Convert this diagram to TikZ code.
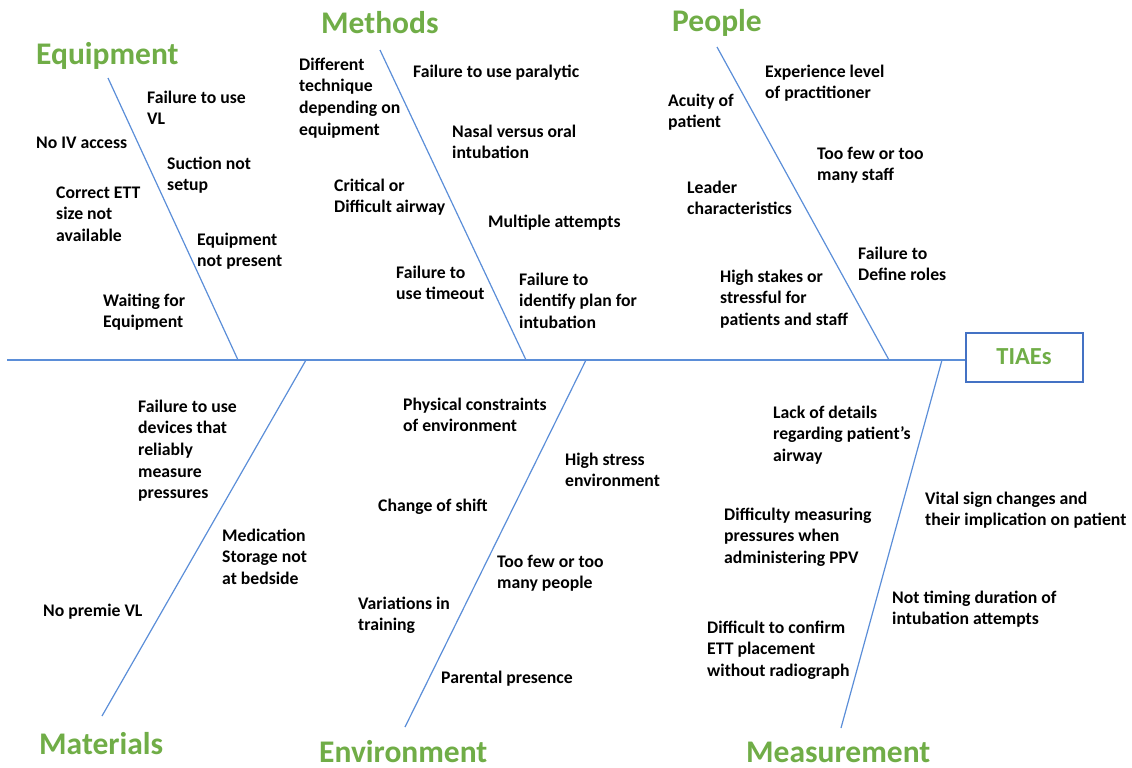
\documentclass[tikz,border=0pt]{standalone}
\usepackage{fontspec}
\setmainfont{Carlito}
\definecolor{hgreen}{HTML}{70AD47}
\definecolor{bone}{HTML}{5B8ED8}
\definecolor{boxblue}{HTML}{4472C4}
\newcommand\myst{\rule{0pt}{13pt}}
\tikzset{
  lab/.style={anchor=north west, inner sep=0pt, align=left,
    font=\fontsize{17.7pt}{21.6pt}\selectfont\bfseries},
  head/.style={anchor=base west, inner sep=0pt, text=hgreen, text depth=0pt,
    font=\fontsize{31.5pt}{36pt}\selectfont\bfseries},
  boneline/.style={draw=bone, line width=1.2pt},
}
\begin{document}
\begin{tikzpicture}[x=1pt,y=-1pt]
\useasboundingbox (0,0) rectangle (1132,768);
% spine and effect box
\node[draw=boxblue, line width=2pt, minimum width=117pt, minimum height=49pt, inner sep=0pt,
  text=hgreen, font=\fontsize{24.5pt}{28pt}\selectfont\bfseries] (tiaes) at (1024,357) {TIAEs};
\coordinate (tail) at (7,360);
\draw[boneline] (tail) -- (tail -| tiaes.west);
% bone endpoints
\coordinate (eqT) at (108,78);  \coordinate (eqB) at (238,360);
\coordinate (meT) at (380,50);  \coordinate (meB) at (526,360);
\coordinate (peT) at (717,47);  \coordinate (peB) at (889,360);
\coordinate (maT) at (306,360); \coordinate (maB) at (102,716);
\coordinate (enT) at (586,360); \coordinate (enB) at (405,727);
\coordinate (msT) at (942,360); \coordinate (msB) at (841,728);
\draw[boneline] (eqT) -- (eqB);
\draw[boneline] (meT) -- (meB);
\draw[boneline] (peT) -- (peB);
\draw[boneline] (maT) -- (maB);
\draw[boneline] (enT) -- (enB);
\draw[boneline] (msT) -- (msB);
% headings
\node[head] (hEq) at (36,64) {Equipment};
\node[head] (hMe) at (321,34) {Methods};
\node[head] (hPe) at (672,32) {People};
\node[head] (hMa) at (39,754) {Materials};
\node[head] (hEn) at (319,762) {Environment};
\node[head] (hMs) at (746,762) {Measurement};
% Equipment causes
\node[lab] (e1) at (147,90) {\myst Failure to use\\VL};
\node[lab] (e2) at (36,135) {\myst No IV access};
\node[lab] (e3) at (167,156) {\myst Suction not\\setup};
\node[lab] (e4) at (56,185) {\myst Correct ETT\\size not\\available};
\node[lab] (e5) at (197,232) {\myst Equipment\\not present};
\node[lab] (e6) at (103,293) {\myst Waiting for\\Equipment};
% Methods causes
\node[lab] (m1) at (299,57) {\myst Different\\technique\\depending on\\equipment};
\node[lab] (m2) at (413,64) {\myst Failure to use paralytic};
\node[lab] (m3) at (452,124) {\myst Nasal versus oral\\intubation};
\node[lab] (m4) at (334,178) {\myst Critical or\\Difficult airway};
\node[lab] (m5) at (488,214) {\myst Multiple attempts};
\node[lab] (m6) at (396,265) {\myst Failure to\\use timeout};
\node[lab] (m7) at (519,272) {\myst Failure to\\identify plan for\\intubation};
% People causes
\node[lab] (p1) at (765,64) {\myst Experience level\\of practitioner};
\node[lab] (p2) at (668,93) {\myst Acuity of\\patient};
\node[lab] (p3) at (817,146) {\myst Too few or too\\many staff};
\node[lab] (p4) at (687,180) {\myst Leader\\characteristics};
\node[lab] (p5) at (858,246) {\myst Failure to\\Define roles};
\node[lab] (p6) at (720,269) {\myst High stakes or\\stressful for\\patients and staff};
% Materials causes
\node[lab] (a1) at (138,399) {\myst Failure to use\\devices that\\reliably\\measure\\pressures};
\node[lab] (a2) at (222,528) {\myst Medication\\Storage not\\at bedside};
\node[lab] (a3) at (43,603) {\myst No premie VL};
% Environment causes
\node[lab] (v1) at (403,397) {\myst Physical constraints\\of environment};
\node[lab] (v2) at (565,452) {\myst High stress\\environment};
\node[lab] (v3) at (378,498) {\myst Change of shift};
\node[lab] (v4) at (497,554) {\myst Too few or too\\many people};
\node[lab] (v5) at (358,596) {\myst Variations in\\training};
\node[lab] (v6) at (441,670) {\myst Parental presence};
% Measurement causes
\node[lab] (s1) at (773,405) {\myst Lack of details\\regarding patient’s\\airway};
\node[lab] (s2) at (925,491) {\myst Vital sign changes and\\their implication on patient};
\node[lab] (s3) at (724,507) {\myst Difficulty measuring\\pressures when\\administering PPV};
\node[lab] (s4) at (892,590) {\myst Not timing duration of\\intubation attempts};
\node[lab] (s5) at (707,620) {\myst Difficult to confirm\\ETT placement\\without radiograph};
\end{tikzpicture}
\end{document}
